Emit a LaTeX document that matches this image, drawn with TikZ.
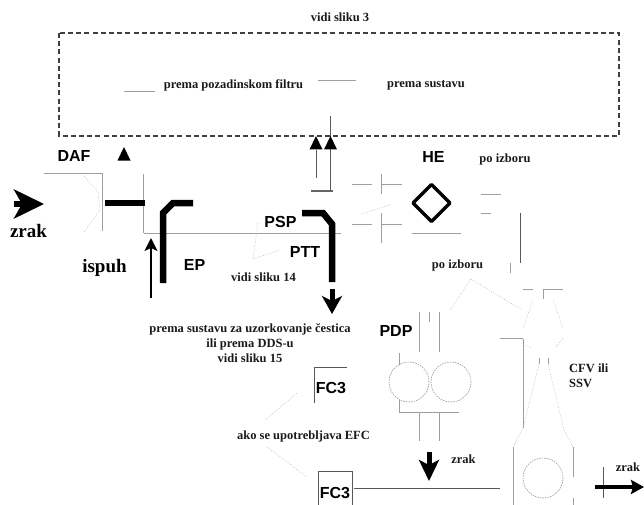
\documentclass[tikz,border=0pt]{standalone}
\usepackage{fontspec}
\setmainfont{Liberation Serif}
\setsansfont{Liberation Sans}
\usetikzlibrary{arrows.meta,positioning}
\newcommand{\segs}[2]{%
  \foreach \xa/\ya/\xb/\yb in {#2} {\draw[#1] (\xa,\ya) -- (\xb,\yb);}
}
\tikzset{
  note/.style={font=\rmfamily\bfseries\fontsize{12.5}{14}\selectfont,inner sep=0pt,text=black!90},
  bignote/.style={font=\rmfamily\bfseries\fontsize{19}{21}\selectfont,inner sep=0pt},
  tag/.style={font=\sffamily\bfseries\fontsize{16}{18}\selectfont,inner sep=0pt},
  thin gray/.style={draw=black!38,line width=0.9pt},
  duct/.style={draw=black,line width=6.5pt,line join=miter},
  faint/.style={draw=black!28,line width=0.5pt,dash pattern=on 1pt off 1.6pt},
  pump/.style={draw=black!40,line width=0.6pt,dash pattern=on 1.6pt off 1pt},
  head/.style={fill=black,draw=none}
}
\begin{document}
\begin{tikzpicture}[x=1pt,y=-1pt]
  \useasboundingbox (0,0) rectangle (644,505);
  % dilution box
  \draw[black!75,line width=1.5pt,dash pattern=on 5pt off 3.2pt] (59,33) rectangle (619,136);
  % texts
  \node[note] (top) at (340,17) {vidi sliku 3};
  \node[note] (filter) at (233.5,85) {prema pozadinskom filtru};
  \node[note] (system) at (426,85) {prema sustavu};
  \node[note] (opt1) at (505,159) {po izboru};
  \node[note] (opt2) at (457.5,265) {po izboru};
  \node[note] (see14) at (263.5,277) {vidi sliku 14};
  \node[note,align=center,font=\rmfamily\bfseries\fontsize{12.5}{15}\selectfont] (sample) at (250,343) {prema sustavu za uzorkovanje čestica\\ili prema DDS-u\\vidi sliku 15};
  \node[note] (efc) at (303.5,436) {ako se upotrebljava EFC};
  \node[note] (air2) at (463.5,459) {zrak};
  \node[note] (air3) at (628,467) {zrak};
  \node[note,align=left,anchor=west,font=\rmfamily\bfseries\fontsize{12.5}{14.5}\selectfont] (cfv) at (569,376) {CFV ili\\SSV};
  \node[bignote] (air1) at (28.5,231) {zrak};
  \node[bignote] (exh) at (104.5,268) {ispuh};
  \node[tag] (daf) at (74,156) {DAF};
  \node[tag] (ep) at (194.5,265) {EP};
  \node[tag] (psp) at (280.5,222) {PSP};
  \node[tag] (ptt) at (305,252) {PTT};
  \node[tag] (he) at (433.5,157) {HE};
  \node[tag] (pdp) at (396,331) {PDP};
  \node[tag] (fca) at (331,388) {FC3};
  \node[tag] (fcb) at (335,493) {FC3};
  % plain lines
  \segs{thin gray}{124/91/155/91,318/80/356/80,102/173/102/231,44/173/102/173,
    143.5/174/143.5/233,143.5/233/341/233,412/233/461/233,
    352/184/372/184,381/174/381/194,381/184/402/184,
    352/224/372/224,381/213/381/243,381/224/402/224,
    481/194/501/194,481/213.5/491/213.5,510/263/510/273,
    523/289/533/289,543/289/563/289,543/289/543/299,
    419/312/419/352,439/312/439/352,429/312/429/322,
    399/353/399/365,399/400/399/412,399/412/459/412,
    419/412/419/441,439/412/439/441,
    523/338.5/523/428,500/338.5/523/338.5,
    513/447/513/505,573/447/573/477,573/498/573/505,
    539/358/539/364,548/358/548/364}
  \segs{black!65,line width=0.9pt}{316/150/316/178,330.5/116/330.5/190,520.5/213/520.5/263,
    354/488/500/488,314/367/347/367,314/367/314/403,
    318/471/352/471,318/471/318/505,352/471/352/505,603/467/603/498}
  \draw[black!60,line width=2pt] (311,190.5) -- (333,190.5);
  % faint traces
  \segs{faint}{84/176/98/192,98/192/100/210,100/210/84/232,
    258/223/253/259,253/259/280/250,362/214/392/204,
    471/279/450/310,471/279/522/310,297/393/265/420,267/447/307/477,
    533/300/523/328,553/300/563/328,563/338/555/348,525/345/532/348,
    539/364/523/428,523/428/513/447,548/364/564/430,564/430/573/447}
  \foreach \x/\y/\r in {409/382/20,451/382/20,543/478/20}
    \draw[pump] (\x,\y) circle (\r pt);
  % thick ducts
  \draw[duct] (105,203) -- (145,203);
  \draw[duct] (193,203) -- (173,203) -- (163,213) -- (163,283);
  \draw[duct] (302,213) -- (323,213) -- (332,224) -- (332,282);
  \draw[black,line width=3.5pt,line join=round] (431.5,184.5) -- (450,203) -- (431.5,221.5) -- (413,203) -- cycle;
  % triangles
  \foreach \x/\y in {124/147,316/136,330.5/136}
    \fill[head] (\x,\y) -- (\x+6.5,\y+13.5) -- (\x-6.5,\y+13.5) -- cycle;
  % arrows
  \draw[line width=6pt,-{Stealth[length=30pt,width=29pt,inset=8pt]}] (14,204) -- (44,204);
  \draw[line width=1.6pt,-{Stealth[length=13pt,width=13pt,inset=3pt]}] (151,298) -- (151,238);
  \draw[line width=5pt,-{Stealth[length=18pt,width=20pt,inset=5pt]}] (332,289) -- (332,314);
  \draw[line width=5pt,-{Stealth[length=21pt,width=20pt,inset=5pt]}] (429,452) -- (429,481);
  \draw[line width=3.5pt,-{Stealth[length=13pt,width=14pt,inset=2pt]}] (595,487) -- (644,487);
\end{tikzpicture}
\end{document}
